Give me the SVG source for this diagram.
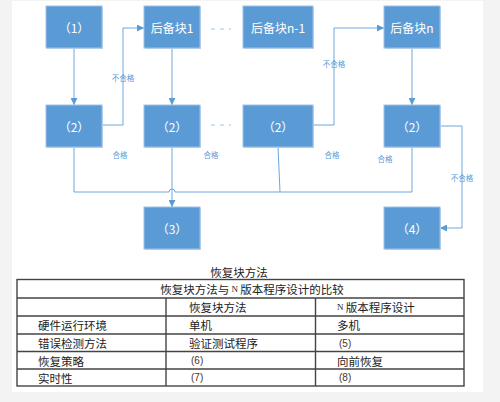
<svg xmlns="http://www.w3.org/2000/svg" width="500" height="402" viewBox="0 0 500 402">
<style>
.bx{fill:#5b9bd5;stroke:#9cc2ea;stroke-width:1}
.sh{fill:#c9d6e4}
.bt{font-family:"Noto Sans CJK SC","Liberation Sans",sans-serif;font-size:12px;fill:#ffffff;text-anchor:middle;dominant-baseline:central}
.cn{fill:none;stroke:#6ea6dc;stroke-width:1}
.dt{fill:none;stroke:#9cc2ea;stroke-width:1.2;stroke-dasharray:4 5}
.lb{font-family:"Noto Sans CJK SC","Liberation Sans",sans-serif;font-size:7.5px;fill:#5b9bd5;text-anchor:middle;dominant-baseline:central}
.tb{fill:none;stroke:#444;stroke-width:1.4}
.tt{font-family:"Noto Sans CJK SC","Liberation Sans",sans-serif;font-size:11.5px;fill:#222;dominant-baseline:central}
.nm{font-family:"Liberation Sans",sans-serif;font-size:10px;fill:#4a3422;dominant-baseline:central}
</style>
<defs>
<marker id="ar" viewBox="0 0 10 10" refX="10" refY="5" markerWidth="7" markerHeight="7" orient="auto" markerUnits="userSpaceOnUse">
<path d="M0,0 L10,5 L0,10 z" fill="#5b9bd5"/>
</marker>
</defs>
<rect x="0" y="0" width="500" height="402" fill="#f3f3f3"/>
<rect x="12" y="1" width="471" height="391" fill="#ffffff"/>

<g id="connectors">
<path class="cn" d="M74,48 V105" marker-end="url(#ar)"/>
<path class="cn" d="M102,125 H123 V28 H144" marker-end="url(#ar)"/>
<path class="cn" d="M172,48 V105" marker-end="url(#ar)"/>
<path class="cn" d="M313,125 H334 V28 H384" marker-end="url(#ar)"/>
<path class="cn" d="M412,48 V105" marker-end="url(#ar)"/>
<path class="cn" d="M440,126 H462 V228 H440" marker-end="url(#ar)"/>
<path class="cn" d="M172,147 V207" marker-end="url(#ar)"/>
<path class="cn" d="M74,147 V192 H169 A3,3 0 0 1 175,192 H412 V147"/>
<path class="cn" d="M278,147 L280,192"/>
<path class="dt" d="M211,29 H231"/>
<path class="dt" d="M211,125 H231"/>
<text class="lb" x="123" y="77">不合格</text>
<text class="lb" x="334" y="63">不合格</text>
<text class="lb" x="462" y="177">不合格</text>
<text class="lb" x="120" y="154">合格</text>
<text class="lb" x="211" y="154">合格</text>
<text class="lb" x="332" y="154">合格</text>
<text class="lb" x="385" y="158">合格</text>
</g>

<g id="n1"><rect class="sh" x="47" y="7" width="56" height="42"/><rect class="bx" x="46" y="6" width="56" height="42"/><text class="bt" x="74" y="27">（1）</text></g>
<g id="b1"><rect class="sh" x="145" y="7" width="56" height="42"/><rect class="bx" x="144" y="6" width="56" height="42"/><text class="bt" x="172" y="27">后备块1</text></g>
<g id="bn1"><rect class="sh" x="244" y="7" width="70" height="42"/><rect class="bx" x="243" y="6" width="70" height="42"/><text class="bt" x="278" y="27">后备块n-1</text></g>
<g id="bn"><rect class="sh" x="385" y="7" width="56" height="42"/><rect class="bx" x="384" y="6" width="56" height="42"/><text class="bt" x="412" y="27">后备块n</text></g>
<g id="c1"><rect class="sh" x="47" y="106" width="56" height="42"/><rect class="bx" x="46" y="105" width="56" height="42"/><text class="bt" x="74" y="126">（2）</text></g>
<g id="c2"><rect class="sh" x="145" y="106" width="56" height="42"/><rect class="bx" x="144" y="105" width="56" height="42"/><text class="bt" x="172" y="126">（2）</text></g>
<g id="c3"><rect class="sh" x="244" y="106" width="70" height="42"/><rect class="bx" x="243" y="105" width="70" height="42"/><text class="bt" x="278" y="126">（2）</text></g>
<g id="c4"><rect class="sh" x="385" y="106" width="56" height="42"/><rect class="bx" x="384" y="105" width="56" height="42"/><text class="bt" x="412" y="126">（2）</text></g>
<g id="n3"><rect class="sh" x="145" y="208" width="56" height="42"/><rect class="bx" x="144" y="207" width="56" height="42"/><text class="bt" x="172" y="228">（3）</text></g>
<g id="n4"><rect class="sh" x="385" y="208" width="56" height="42"/><rect class="bx" x="384" y="207" width="56" height="42"/><text class="bt" x="412" y="228">（4）</text></g>

<g id="table">
<text class="tt" x="239" y="272" text-anchor="middle">恢复块方法</text>
<rect class="tb" x="17" y="279.5" width="447" height="106.5"/>
<path class="tb" d="M17,298 H464 M17,316 H464 M17,334 H464 M17,351.5 H464 M17,369 H464 M166,298 V386 M315.5,298 V386"/>
<text class="tt" x="252" y="289" text-anchor="middle">恢复块方法与<tspan font-family="Liberation Serif,serif" font-size="9px"> N </tspan>版本程序设计的比较</text>
<text class="tt" x="189" y="307">恢复块方法</text>
<text class="tt" x="337" y="307"><tspan font-family="Liberation Serif,serif" font-size="9px">N </tspan>版本程序设计</text>
<text class="tt" x="38" y="325">硬件运行环境</text>
<text class="tt" x="189" y="325">单机</text>
<text class="tt" x="337" y="325">多机</text>
<text class="tt" x="38" y="343">错误检测方法</text>
<text class="tt" x="189" y="343">验证测试程序</text>
<text class="nm" x="339" y="343">(5)</text>
<text class="tt" x="38" y="360.5">恢复策略</text>
<text class="nm" x="191" y="360.5">(6)</text>
<text class="tt" x="337" y="360.5">向前恢复</text>
<text class="tt" x="38" y="377.5">实时性</text>
<text class="nm" x="191" y="377.5">(7)</text>
<text class="nm" x="339" y="377.5">(8)</text>
</g>
</svg>
